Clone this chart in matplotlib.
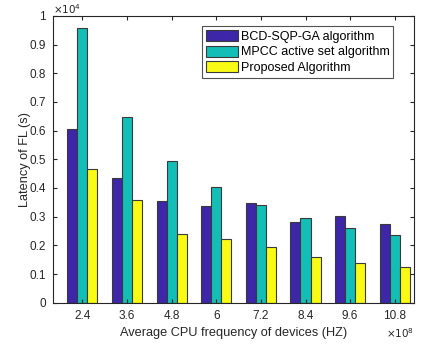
import matplotlib
matplotlib.use('Agg')
import matplotlib.pyplot as plt
import numpy as np

plt.rcParams['font.family'] = ['Liberation Sans', 'DejaVu Sans']

# CPU frequency (x 10^8 Hz) and latency (x 10^4 s)
freq_labels = ['2.4', '3.6', '4.8', '6', '7.2', '8.4', '9.6', '10.8']
freq = np.array([2.4, 3.6, 4.8, 6.0, 7.2, 8.4, 9.6, 10.8])
bcd_sqp_ga = [0.606, 0.434, 0.353, 0.338, 0.349, 0.282, 0.301, 0.274]
mpcc_active = [0.957, 0.649, 0.494, 0.402, 0.340, 0.295, 0.262, 0.236]
proposed = [0.466, 0.359, 0.240, 0.223, 0.194, 0.159, 0.139, 0.125]

series_names = ['BCD-SQP-GA algorithm', 'MPCC active set algorithm', 'Proposed Algorithm']
colors = ['#3E26A8', '#13BEB7', '#F9FB15']
dark = '#262626'

fig = plt.figure(figsize=(4.21, 3.44), dpi=100)
ax = fig.add_axes([0.125, 0.12, 0.8577, 0.834])

w = 0.27  # bar width in data units (spacing 1.2)
for i, (vals, name, c) in enumerate(zip([bcd_sqp_ga, mpcc_active, proposed], series_names, colors)):
    ax.bar(freq + (i - 1) * w, vals, width=w, color=c, edgecolor='#3a3a3a',
           linewidth=0.8, label=name)

ax.set_xlim(1.6, 11.31)
ax.set_ylim(0, 1)
ax.set_xticks(freq)
ax.set_xticklabels(freq_labels)
ax.set_yticks(np.arange(0, 1.01, 0.1))
ax.set_yticklabels(['0', '0.1', '0.2', '0.3', '0.4', '0.5', '0.6', '0.7', '0.8', '0.9', '1'])

ax.tick_params(direction='in', top=True, right=True, length=3, width=0.8,
               labelsize=8.5, colors=dark, pad=5)
for s in ax.spines.values():
    s.set_color(dark)
    s.set_linewidth(0.8)

ax.set_xlabel('Average CPU frequency of devices (HZ)', fontsize=9.2, color=dark, labelpad=4)
ax.set_ylabel('Latency of FL (s)', fontsize=9.2, color=dark, labelpad=-1)

ax.text(0.0, 1.0, r'$\times10^{4}$', transform=ax.transAxes, fontsize=7.5,
        color=dark, ha='left', va='bottom')
ax.text(1.0, -0.083, r'$\times10^{8}$', transform=ax.transAxes, fontsize=7.5,
        color=dark, ha='right', va='top')

leg = ax.legend(loc='upper right', bbox_to_anchor=(0.943, 0.963), fontsize=9,
                frameon=True, fancybox=False, handlelength=2.6, handleheight=1.0,
                labelspacing=0.2, borderpad=0.3, handletextpad=0.2, borderaxespad=0)
leg.get_frame().set_edgecolor(dark)
leg.get_frame().set_linewidth(0.8)

fig.savefig('out.png', dpi=100)
